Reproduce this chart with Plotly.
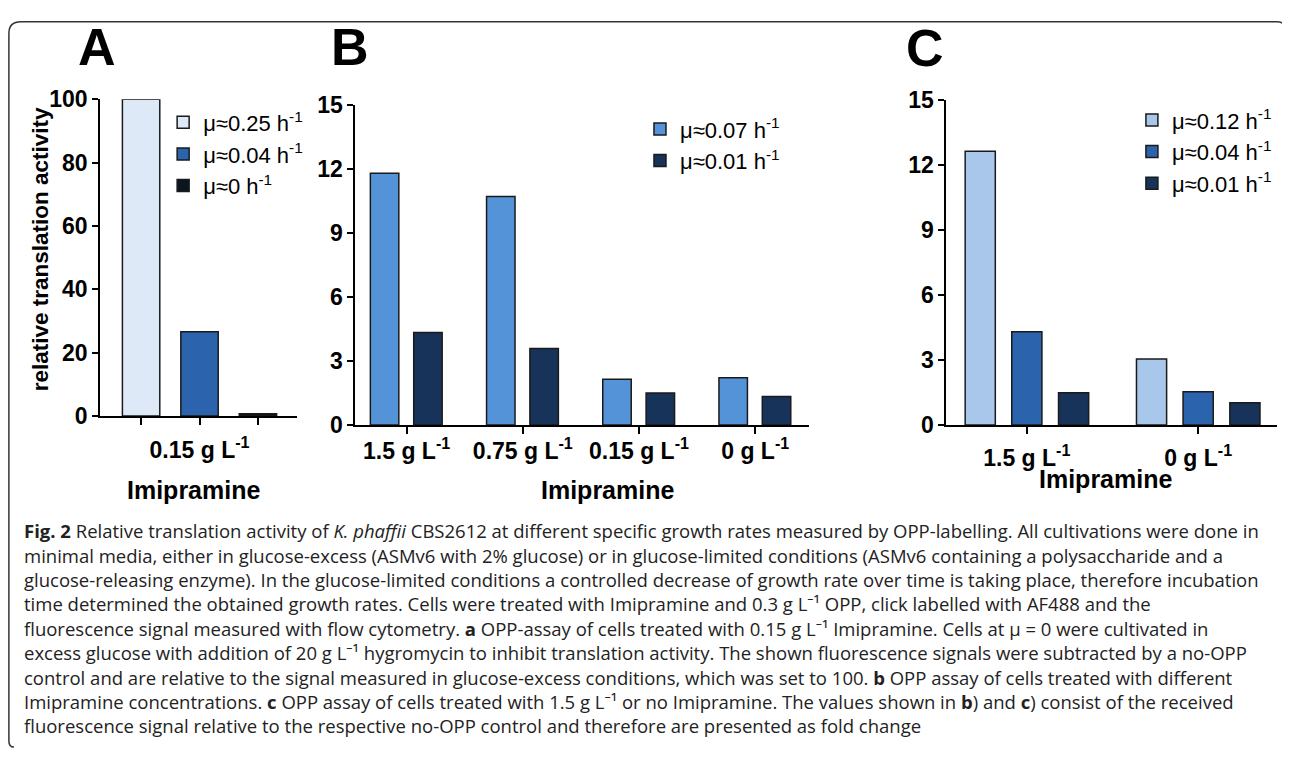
import plotly.graph_objects as go

# Figure fills the visible page area next to the 8px html body margin
W, H = 1282, 753
BODY = 8
# measured mapping from page pixels to picture pixels (picture = O + S * page)
SX, OX = 0.993, 2.0
SY, OY = 0.967, 12.6

# ---------------- data ----------------
a_categories = ["0.15 g L<sup>-1</sup>"]
a_series = ["μ≈0.25 h<sup>-1</sup>", "μ≈0.04 h<sup>-1</sup>", "μ≈0 h<sup>-1</sup>"]
a_values = [100, 26.6, 0.7]

b_categories = ["1.5 g L<sup>-1</sup>", "0.75 g L<sup>-1</sup>", "0.15 g L<sup>-1</sup>", "0 g L<sup>-1</sup>"]
b_series = ["μ≈0.07 h<sup>-1</sup>", "μ≈0.01 h<sup>-1</sup>"]
b_fast = [11.8, 10.7, 2.14, 2.21]
b_slow = [4.34, 3.59, 1.5, 1.34]

c_categories = ["1.5 g L<sup>-1</sup>", "0 g L<sup>-1</sup>"]
c_series = ["μ≈0.12 h<sup>-1</sup>", "μ≈0.04 h<sup>-1</sup>", "μ≈0.01 h<sup>-1</sup>"]
c_fast = [12.63, 3.04]
c_mid = [4.30, 1.53]
c_slow = [1.49, 1.03]

y_ticks_a = [0, 20, 40, 60, 80, 100]
y_ticks_bc = [0, 3, 6, 9, 12, 15]

caption_lines = [
    "<b>Fig. 2</b> Relative translation activity of <i>K. phaffii</i> CBS2612 at different specific growth rates measured by OPP-labelling. All cultivations were done in",
    "minimal media, either in glucose-excess (ASMv6 with 2% glucose) or in glucose-limited conditions (ASMv6 containing a polysaccharide and a",
    "glucose-releasing enzyme). In the glucose-limited conditions a controlled decrease of growth rate over time is taking place, therefore incubation",
    "time determined the obtained growth rates. Cells were treated with Imipramine and 0.3 g L⁻¹ OPP, click labelled with AF488 and the",
    "fluorescence signal measured with flow cytometry. <b>a</b> OPP-assay of cells treated with 0.15 g L⁻¹ Imipramine. Cells at μ = 0 were cultivated in",
    "excess glucose with addition of 20 g L⁻¹ hygromycin to inhibit translation activity. The shown fluorescence signals were subtracted by a no-OPP",
    "control and are relative to the signal measured in glucose-excess conditions, which was set to 100. <b>b</b> OPP assay of cells treated with different",
    "Imipramine concentrations. <b>c</b> OPP assay of cells treated with 1.5 g L⁻¹ or no Imipramine. The values shown in <b>b</b>) and <b>c</b>) consist of the received",
    "fluorescence signal relative to the respective no-OPP control and therefore are presented as fold change",
]

# ---------------- style ----------------
FONT = "Arial, Liberation Sans, sans-serif"
CAP_FONT = "Open Sans, Noto Sans, sans-serif"
col_a = ["#dde9f7", "#2b63ad", "#0b1421"]
col_b = ["#5593d9", "#17335a"]
col_c = ["#a9c7ea", "#2b63ad", "#17335a"]
EDGE = dict(color="#1a1a1a", width=1.5)


def fx_px(xr):
    """picture x -> figure pixel x"""
    return (xr - OX) / SX - BODY


def fy_px(yr):
    return (yr - OY) / SY - BODY


def px(xr):
    return fx_px(xr) / W


def py(yr):
    return 1 - fy_px(yr) / H


fig = go.Figure()

# Panel A: one bar per growth rate, each on its own tick
for i, (name, v, c) in enumerate(zip(a_series, a_values, col_a)):
    fig.add_trace(go.Bar(x=[i], y=[v], name=name, marker=dict(color=c, line=EDGE),
                         width=0.64, xaxis="x", yaxis="y", legend="legend"))

# Panel B
xb = list(range(len(b_categories)))
for name, vals, c, off in zip(b_series, [b_fast, b_slow], col_b, [-0.312, 0.061]):
    fig.add_trace(go.Bar(x=xb, y=vals, name=name, marker=dict(color=c, line=EDGE),
                         width=0.245, offset=off, xaxis="x2", yaxis="y2", legend="legend2"))

# Panel C
xc = list(range(len(c_categories)))
for name, vals, c, off in zip(c_series, [c_fast, c_mid, c_slow], col_c, [-0.36, -0.088, 0.185]):
    fig.add_trace(go.Bar(x=xc, y=vals, name=name, marker=dict(color=c, line=EDGE),
                         width=0.176, offset=off, xaxis="x3", yaxis="y3", legend="legend3"))

axis_common = dict(showline=True, linewidth=2, linecolor="black", ticks="outside",
                   tickwidth=2, tickcolor="black", showgrid=False, zeroline=False,
                   tickfont=dict(family=FONT, size=23, color="black", weight="bold"),
                   fixedrange=True)

fig.update_layout(
    width=W, height=H, margin=dict(l=0, r=0, t=0, b=0),
    paper_bgcolor="white", plot_bgcolor="white", barmode="overlay",
    xaxis=dict(domain=[px(101.5), px(297)], range=[-0.70, 2.67], anchor="y",
               tickvals=[0, 1, 2], ticktext=["", a_categories[0], ""], ticklen=7,
               ticklabelstandoff=5, **axis_common),
    yaxis=dict(domain=[py(416), py(98.7)], range=[0, 100], anchor="x",
               tickvals=y_ticks_a, ticklen=6, **axis_common),
    xaxis2=dict(domain=[px(355), px(805)], range=[-0.44, 3.46], anchor="y2",
                tickvals=xb, ticktext=b_categories, ticklen=7, ticklabelstandoff=-3,
                **axis_common),
    yaxis2=dict(domain=[py(425), py(104.3)], range=[0, 15], anchor="x2",
                tickvals=y_ticks_bc, ticklen=6, **axis_common),
    xaxis3=dict(domain=[px(941.7), px(1270)], range=[-0.47, 1.46], anchor="y3",
                tickvals=xc, ticktext=c_categories, ticklen=7, ticklabelstandoff=4,
                **axis_common),
    yaxis3=dict(domain=[py(425), py(99.3)], range=[0, 15], anchor="x3",
                tickvals=y_ticks_bc, ticklen=6, **axis_common),
)

leg_common = dict(font=dict(family=FONT, size=22, color="black"), bgcolor="rgba(0,0,0,0)",
                  xanchor="left", yanchor="top", traceorder="normal", itemclick=False,
                  itemdoubleclick=False)
fig.update_layout(
    legend=dict(x=px(164), y=py(101), **leg_common),
    legend2=dict(x=px(637.5), y=py(107.6), **leg_common),
    legend3=dict(x=px(1126), y=py(98.6), **leg_common),
)

ann = []
for letter, cx, cy in [("A", 98.5, 46.5), ("B", 350, 46.5), ("C", 920.5, 47.5)]:
    ann.append(dict(text=letter, x=px(cx), y=py(cy), xref="paper", yref="paper",
                    xanchor="center", yanchor="middle", showarrow=False,
                    font=dict(family=FONT, size=52, color="black", weight="bold")))
for cx, cy in [(194, 490), (605, 490), (1100, 479)]:
    ann.append(dict(text="Imipramine", x=px(cx), y=py(cy), xref="paper", yref="paper",
                    xanchor="center", yanchor="middle", showarrow=False,
                    font=dict(family=FONT, size=25, color="black", weight="bold")))
ann.append(dict(text="relative translation activity", x=px(41.7), y=py(249), xref="paper",
                yref="paper", xanchor="center", yanchor="middle", showarrow=False,
                textangle=-90, font=dict(family=FONT, size=22.5, color="black", weight="bold")))
for i, line in enumerate(caption_lines):
    ann.append(dict(text=line, x=px(25), y=py(531 + 24.4 * i), xref="paper", yref="paper",
                    xanchor="left", yanchor="middle", showarrow=False, align="left",
                    borderpad=0, font=dict(family=CAP_FONT, size=18.5, color="#222222")))
fig.update_layout(annotations=ann)

# partial rounded frame around the figure, drawn as close to the page edge as possible
t, l, r, b = 0.9, 0.9, W - 0.9, H - 1.0
fr = 12
frame = (f"M {r},{fr + 10} Q {r},{t} {r - fr},{t} L {l + fr},{t} Q {l},{t} {l},{t + fr} "
         f"L {l},{b - 6} Q {l},{b} {l + 5},{b}")


def to_paper(path):
    out = []
    for tok in path.split():
        if "," in tok:
            xs, ys = tok.split(",")
            out.append(f"{float(xs) / W},{1 - float(ys) / H}")
        else:
            out.append(tok)
    return " ".join(out)


fig.add_shape(type="path", path=to_paper(frame), xref="paper", yref="paper",
              line=dict(color="#333333", width=1.5))

fig.write_html("out.html")
